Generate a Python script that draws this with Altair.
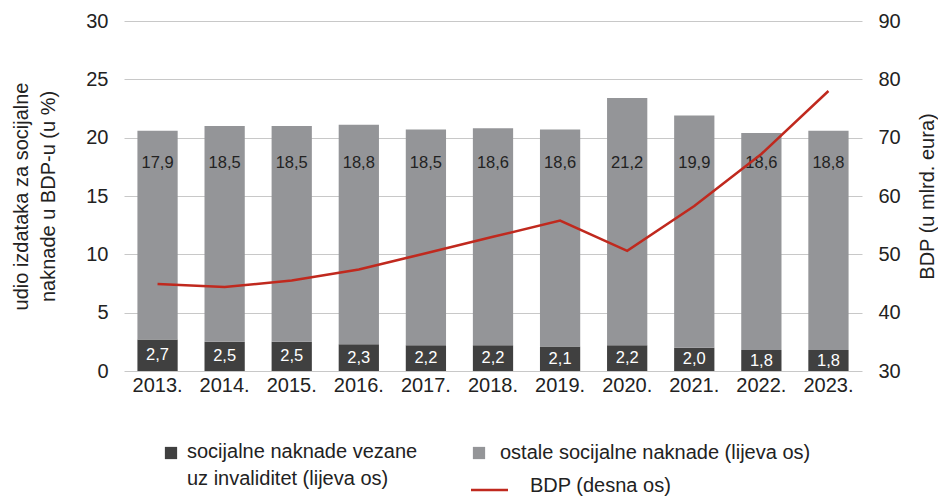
import altair as alt
import pandas as pd

years = ["2013.", "2014.", "2015.", "2016.", "2017.", "2018.", "2019.", "2020.", "2021.", "2022.", "2023."]
disability = [2.7, 2.5, 2.5, 2.3, 2.2, 2.2, 2.1, 2.2, 2.0, 1.8, 1.8]
other = [17.9, 18.5, 18.5, 18.8, 18.5, 18.6, 18.6, 21.2, 19.9, 18.6, 18.8]
gdp = [44.9, 44.4, 45.5, 47.4, 50.2, 53.0, 55.8, 50.6, 58.3, 67.2, 78.0]

legend_labels = [
    "socijalne naknade vezane\nuz invaliditet (lijeva os)",
    "ostale socijalne naknade (lijeva os)",
    "BDP (desna os)",
]

FONT = "Liberation Sans"
TXT = "#222222"
DARK = "#404040"
GRAY = "#949598"
RED = "#c0291e"

df = pd.DataFrame({"year": years, "dis": disability, "oth": other, "gdp": gdp})
df["total"] = df["dis"] + df["oth"]
df["dis_lbl"] = df["dis"].map(lambda v: f"{v:.1f}".replace(".", ","))
df["oth_lbl"] = df["oth"].map(lambda v: f"{v:.1f}".replace(".", ","))

xenc = alt.X("year:N", sort=years, title=None,
             scale=alt.Scale(paddingInner=0.4, paddingOuter=0.2),
             axis=alt.Axis(labelAngle=0, labelFontSize=20, labelPadding=4, labelFont=FONT,
                           labelColor=TXT, domain=False, ticks=False, grid=False))

yleft = alt.Y("dis:Q", scale=alt.Scale(domain=[0, 30]),
              axis=alt.Axis(values=[0, 5, 10, 15, 20, 25, 30], orient="left",
                            title=["udio izdataka za socijalne", "naknade u BDP-u (u %)"],
                            titleFontSize=20, titleFont=FONT, titleFontWeight="normal",
                            titleColor=TXT, titleLineHeight=27,
                            titlePadding=27, labelFontSize=20, labelFont=FONT, labelColor=TXT,
                            labelPadding=16, grid=True, gridColor="#c8c8c8",
                            domain=False, ticks=False))

base = alt.Chart(df)

bar_dark = base.mark_bar(color=DARK).encode(x=xenc, y=yleft, y2=alt.datum(0))
bar_gray = base.mark_bar(color=GRAY).encode(x=xenc, y=alt.Y("total:Q"), y2=alt.Y2("dis:Q"))
txt_dis = base.mark_text(color="white", fontSize=16.5, font=FONT).encode(
    x=xenc, y=alt.Y("mid:Q"), text="dis_lbl:N").transform_calculate(mid="datum.dis / 2")
txt_oth = base.mark_text(color=TXT, fontSize=16.5, font=FONT).encode(
    x=xenc, y=alt.datum(17.8), text="oth_lbl:N")

# custom legend (below plot)
leg1 = alt.Chart(pd.DataFrame({"t": [legend_labels[0]]}))
leg_sq1 = leg1.mark_square(color=DARK, size=150, opacity=1).encode(x=alt.value(47), y=alt.value(432))
leg_t1 = leg1.mark_text(align="left", baseline="alphabetic", fontSize=20, font=FONT, color=TXT,
                        lineBreak="\n", lineHeight=27).encode(
    x=alt.value(63), y=alt.value(437), text="t:N")
leg2 = alt.Chart(pd.DataFrame({"t": [legend_labels[1]]}))
leg_sq2 = leg2.mark_square(color=GRAY, size=150, opacity=1).encode(x=alt.value(355), y=alt.value(432))
leg_t2 = leg2.mark_text(align="left", baseline="alphabetic", fontSize=20, font=FONT, color=TXT).encode(
    x=alt.value(376), y=alt.value(438), text="t:N")
leg3 = alt.Chart(pd.DataFrame({"t": [legend_labels[2]]}))
leg_ln = leg3.mark_rule(color=RED, strokeWidth=2.5).encode(
    x=alt.value(347), x2=alt.value(384), y=alt.value(469))
leg_t3 = leg3.mark_text(align="left", baseline="alphabetic", fontSize=20, font=FONT, color=TXT).encode(
    x=alt.value(406), y=alt.value(471), text="t:N")

left = alt.layer(bar_dark, bar_gray, txt_dis, txt_oth,
                 leg_sq1, leg_t1, leg_sq2, leg_t2, leg_ln, leg_t3)

line = base.mark_line(color=RED, strokeWidth=2.5).encode(
    x=xenc,
    y=alt.Y("gdp:Q", scale=alt.Scale(domain=[30, 90]),
            axis=alt.Axis(orient="right", values=[30, 40, 50, 60, 70, 80, 90],
                          title="BDP (u mlrd. eura)", titleFontSize=20, titleFont=FONT,
                          titleFontWeight="normal", titleColor=TXT, titlePadding=17,
                          titleAngle=270, titleBaseline="top",
                          labelFontSize=20, labelFont=FONT, labelColor=TXT, labelPadding=16,
                          grid=False, domain=False, ticks=False)))

chart = alt.layer(left, line).resolve_scale(y="independent").properties(
    width=738, height=350, padding={"left": 3, "top": 3, "right": 0, "bottom": 0}
).configure(font=FONT).configure_view(stroke=None, strokeWidth=0).configure_axis(
    domain=False, ticks=False)

chart.save("out.html", embed_options={"renderer": "svg", "actions": False})
